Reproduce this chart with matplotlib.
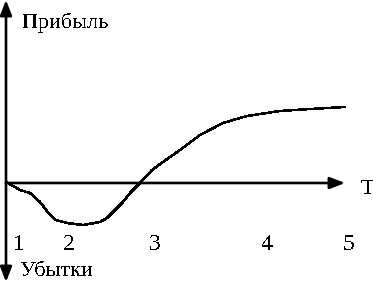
import numpy as np
import matplotlib.pyplot as plt

plt.rcParams['font.family'] = ['Liberation Serif', 'DejaVu Serif']
plt.rcParams['text.antialiased'] = False

# время (условные единицы) и прибыль
t = [0, 12, 22, 32, 42, 48, 59, 75, 92, 99, 115, 122, 132, 144, 155, 172,
     192, 215, 239, 272, 302, 337]
profit = [0, -7, -10, -19, -32, -37, -40, -42, -39, -35, -19, -10, 0, 13,
          21, 33, 48, 60, 67, 72, 74, 76]

stage_pos = [11, 61, 147, 259, 340]
stage_lbl = ['1', '2', '3', '4', '5']

fig = plt.figure(figsize=(3.73, 2.82), dpi=100)
ax = fig.add_axes([0, 0, 1, 1])
ax.set_xlim(-8, 365)
ax.set_ylim(-99, 183)
ax.axis('off')

ax.plot(t, profit, color='black', linewidth=1.1, antialiased=False)

# оси со стрелками
arr = dict(arrowstyle='-|>,head_length=0.9,head_width=0.35', color='black',
           linewidth=1.9, shrinkA=0, shrinkB=0)
ax.annotate('', xy=(-2, 183), xytext=(-2, 0), arrowprops=arr)
ax.annotate('', xy=(-2, -99), xytext=(-2, 0), arrowprops=arr)
ax.annotate('', xy=(337, 0), xytext=(-2, 0), arrowprops=arr)

ax.text(14, 160, 'Прибыль', fontsize=16, ha='left', va='center')
ax.text(12, -89, 'Убытки', fontsize=16, ha='left', va='center')
ax.text(359, -7, 'T', fontsize=16, ha='center', va='center')

for x, s in zip(stage_pos, stage_lbl):
    ax.text(x, -61, s, fontsize=17, ha='center', va='center')

fig.savefig('out.png', dpi=100)
